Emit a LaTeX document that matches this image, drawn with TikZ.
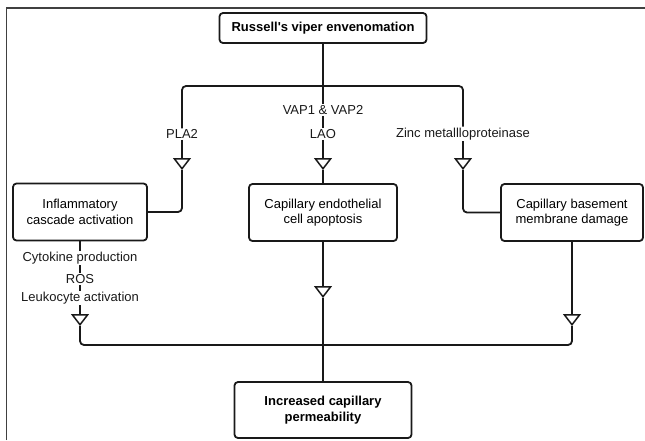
\documentclass[tikz,border=0pt]{standalone}
\usepackage{fontspec}
\setmainfont{Liberation Sans}
\usetikzlibrary{arrows.meta}
\begin{document}
\begin{tikzpicture}[x=1pt,y=-1pt,
  box/.style={draw=black!90, line width=1.8pt, rounded corners=3.5pt, align=center,
    font=\fontsize{13}{15.5}\selectfont, inner sep=2pt},
  boldbox/.style={box, font=\fontsize{13}{15.5}\selectfont\bfseries},
  lbl/.style={font=\fontsize{13}{15}\selectfont, inner sep=1pt, text=black!90},
  conn/.style={line width=1.8pt, draw=black!90},
  tri/.style={conn, -{Triangle[open, length=12pt, width=18pt, line width=1.5pt]}},
  frame/.style={line width=1.1pt, draw=black!75}
]
\useasboundingbox (0,0) rectangle (645,440);
\draw[frame] (6.5,440) -- (6.5,8) -- (645,8);

% boxes
\node[boldbox, minimum width=207pt, minimum height=30pt] (top) at (323,28) {Russell\textquotesingle s viper envenomation};
\node[box, minimum width=134pt, minimum height=57pt] (infl) at (80,212) {Inflammatory\\cascade activation};
\node[box, minimum width=148pt, minimum height=57pt] (endo) at (323,212.5) {Capillary endothelial\\cell apoptosis};
\node[box, minimum width=142pt, minimum height=57pt] (base) at (572,212.5) {Capillary basement\\membrane damage};
\node[boldbox, minimum width=177pt, minimum height=56pt] (perm) at (323,410) {Increased capillary\\permeability};

% labels
\node[lbl] (pla) at (182,134) {PLA2};
\node[lbl] (vap) at (323,110) {VAP1 \& VAP2};
\node[lbl] (lao) at (323,134) {LAO};
\node[lbl] (zinc) at (463,134) {Zinc metallloproteinase};
\node[lbl] (cyt) at (80,258) {Cytokine production};
\node[lbl] (ros) at (80,279) {ROS};
\node[lbl] (leu) at (80,298) {Leukocyte activation};

% junctions and triangle tips
\coordinate (j) at (323,86);
\coordinate (t1) at (182,170);
\coordinate (t2) at (323,170);
\coordinate (t3) at (463,170);
\coordinate (t4) at (80,326);
\coordinate (t5) at (323,298);
\coordinate (t6) at (572,326);
\coordinate (j2) at (323,345);

% upper connectors
\draw[conn] (top.south) -- (j);
\draw[conn, rounded corners=4pt] (j) -| (pla.north);
\draw[tri] (pla.south) -- (t1);
\draw[conn, rounded corners=4pt] (t1) |- (infl.east);

\draw[conn] (j) -- (vap.north);
\draw[conn] (vap.south) -- (lao.north);
\draw[tri] (lao.south) -- (t2);
\draw[conn] (t2) -- (endo.north);

\draw[conn, rounded corners=4pt] (j) -| (zinc.north);
\draw[tri] (zinc.south) -- (t3);
\draw[conn, rounded corners=4pt] (t3) |- (base.west);

% lower connectors
\draw[conn] (infl.south) -- (cyt.north);
\draw[conn] (cyt.south) -- (ros.north);
\draw[conn] (ros.south) -- (leu.north);
\draw[tri] (leu.south) -- (t4);
\draw[conn, rounded corners=4pt] (t4) |- (j2);

\draw[tri] (endo.south) -- (t5);
\draw[conn] (t5) -- (j2) -- (perm.north);

\draw[tri] (base.south) -- (t6);
\draw[conn, rounded corners=4pt] (t6) |- (j2);
\end{tikzpicture}
\end{document}
